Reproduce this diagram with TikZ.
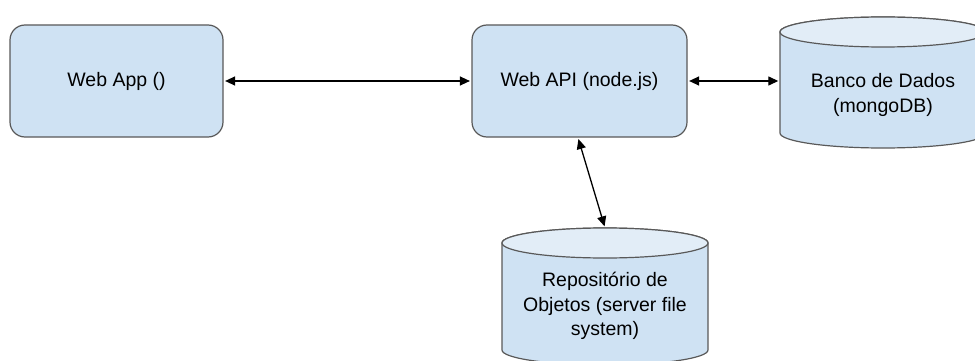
\documentclass[tikz,border=0pt]{standalone}
\usepackage{fontspec}
\setmainfont{Liberation Sans}
\usetikzlibrary{arrows.meta}
\definecolor{boxfill}{HTML}{CFE2F3}
\definecolor{capfill}{HTML}{E2EDF7}
\definecolor{edge}{HTML}{595959}
\tikzset{
  box/.style={draw=edge, line width=1.2pt, fill=boxfill, rounded corners=15pt,
    minimum width=#1, minimum height=112pt, inner sep=0pt, align=center, font=\labelfont},
  cylbody/.style={draw=edge, line width=1.2pt, fill=boxfill},
  cylcap/.style={draw=edge, line width=1.2pt, fill=capfill},
  cyltext/.style={inner sep=0pt, minimum width=206pt, align=center, font=\labelfont},
  link/.style={line width=1.3pt, black, {Triangle[length=10pt,width=9pt]}-{Triangle[length=10pt,width=9pt]}, shorten <=1.5pt, shorten >=1.5pt}
}
\newcommand{\labelfont}{\fontsize{19.5}{24.5}\selectfont}
\begin{document}
\begin{tikzpicture}[x=1pt,y=-1pt]
  \useasboundingbox (0,0) rectangle (975,361);
  \clip (0,0) rectangle (975,361);

  % application boxes
  \node[box=213pt] (webapp) at (116.5,81) {Web App ()};
  \node[box=215pt] (webapi) at (579.5,81) {Web API (node.js)};

  % database cylinder
  \path[cylbody] (780,32) -- (780,133) arc[start angle=180, end angle=0, x radius=103, y radius=15]
    -- (986,32) arc[start angle=0, end angle=-180, x radius=103, y radius=15] -- cycle;
  \path[cylcap] (883,32) ellipse[x radius=103, y radius=15];
  \node[cyltext] (db) at (883,95) {Banco de Dados\\(mongoDB)};

  % object repository cylinder
  \path[cylbody] (502,243) -- (502,350) arc[start angle=180, end angle=0, x radius=103, y radius=15]
    -- (708,243) arc[start angle=0, end angle=-180, x radius=103, y radius=15] -- cycle;
  \path[cylcap] (605,243) ellipse[x radius=103, y radius=15];
  \node[cyltext, minimum height=156pt] (repo) at (605,306) {Reposit\'orio de\\Objetos (server file\\system)};

  % connectors
  \draw[link] (webapp.east) -- (webapi.west);
  \draw[link] (webapi.east) -- (webapi.east -| db.west);
  \draw[link] ([xshift=-1.5pt]webapi.south) -- (repo.north);
\end{tikzpicture}
\end{document}
